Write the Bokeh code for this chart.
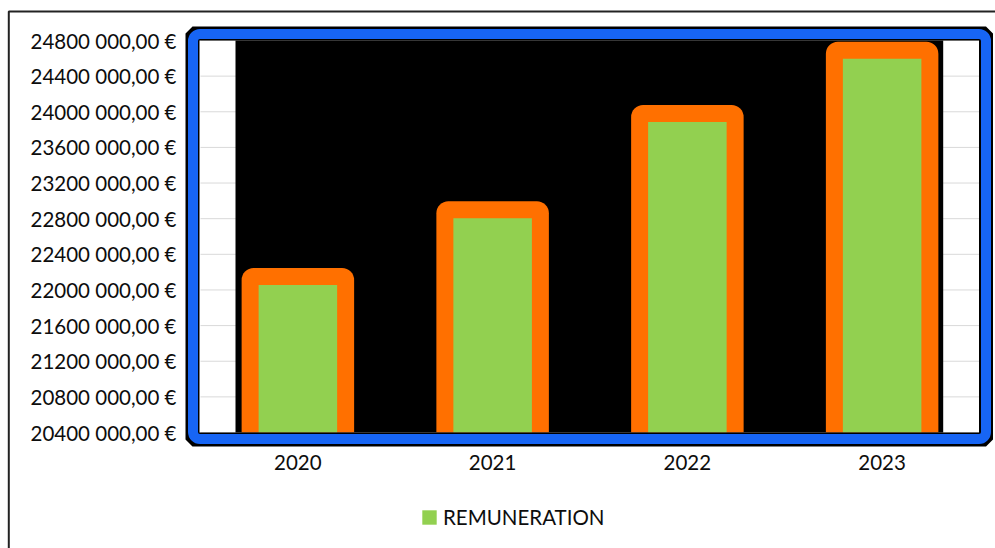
from bokeh.plotting import figure
from bokeh.models import (Range1d, FixedTicker, BoxAnnotation, LinearAxis,
                          Legend, LegendItem, ColumnDataSource)
from bokeh.embed import file_html
from bokeh.resources import INLINE

# ---- data ----
years = ["2020", "2021", "2022", "2023"]
remuneration = [22150000, 22900000, 23980000, 24690000]
series_name = "REMUNERATION"
y_ticks = [20400000, 20800000, 21200000, 21600000, 22000000, 22400000,
           22800000, 23200000, 23600000, 24000000, 24400000, 24800000]
y_tick_labels = ["20400 000,00 €", "20800 000,00 €", "21200 000,00 €",
                 "21600 000,00 €", "22000 000,00 €", "22400 000,00 €",
                 "22800 000,00 €", "23200 000,00 €", "23600 000,00 €",
                 "24000 000,00 €", "24400 000,00 €", "24800 000,00 €"]
y_min, y_max = 20400000, 24800000

# ---- style ----
GREEN = "#92D050"
ORANGE = "#FF7000"
BLUE = "#1765F4"
TEXT = "#0d0d0d"
FONT = "Lato"
FSIZE = "20.5px"

W, H = 995, 548
PL, PR, PT, PB = 200, 979, 40, 432   # inner plot area in page pixels
NCAT = len(years)
PX_X = (PR - PL) / NCAT              # pixels per category
PX_Y = (PB - PT) / (y_max - y_min)   # pixels per euro


def dx(px):
    return (px - PL) / PX_X


def dy(py):
    return y_min + (PB - py) / PX_Y


x_pos = [i + 0.5 for i in range(NCAT)]

p = figure(width=W, height=H,
           x_range=Range1d(dx(0), dx(W)),
           y_range=Range1d(dy(H), dy(0)),
           x_axis_location=None, y_axis_location=None,
           output_backend="svg", toolbar_location=None,
           min_border=0, min_border_left=0, min_border_right=0,
           min_border_top=0, min_border_bottom=0,
           background_fill_color="white", border_fill_color="white")
p.outline_line_color = None
p.grid.visible = False

# ---- outer chart border ----
p.add_layout(BoxAnnotation(left=dx(8.3), right=dx(1200), top=dy(11), bottom=dy(800),
                           fill_color=None, line_color="#222222", line_alpha=1,
                           line_width=2))

# ---- gridlines inside the white plot area ----
grid_r = p.segment(x0=dx(PL), x1=dx(PR), y0=y_ticks, y1=y_ticks,
                   line_color="#d9d9d9", line_width=1)
grid_r.level = "image"

# ---- black band behind bars ----
band = p.quad(left=dx(235), right=dx(942.7), bottom=y_min, top=y_max,
              fill_color="black", line_color=None)
band.level = "underlay"

# ---- bars: orange border (outer) + green fill (inner) ----
half_border = 8.5  # px
src = ColumnDataSource(dict(
    x=x_pos,
    outer_top=[v + half_border / PX_Y for v in remuneration],
    inner_top=[v - half_border / PX_Y for v in remuneration],
))
p.vbar(x="x", top="outer_top", bottom=y_min, width=112.5 / PX_X, source=src,
       fill_color=ORANGE, line_color=None, border_radius=(12, 12, 0, 0))
green_r = p.vbar(x="x", top="inner_top", bottom=y_min, width=78.5 / PX_X, source=src,
                 fill_color=GREEN, line_color=None)

# ---- black ring + blue rounded border around plot area ----
p.add_layout(BoxAnnotation(left=dx(192), right=dx(985.5), top=dy(33), bottom=dy(439),
                           fill_color=None, line_color="black", line_alpha=1,
                           line_width=14))
p.add_layout(BoxAnnotation(left=dx(192.5), right=dx(985.5), top=dy(33.5), bottom=dy(438.5),
                           fill_color=None, line_color=BLUE, line_alpha=1,
                           line_width=10, border_radius=7))

# ---- axes ----
yax = LinearAxis(ticker=FixedTicker(ticks=y_ticks),
                 major_label_overrides=dict(zip(y_ticks, y_tick_labels)),
                 fixed_location=dx(PL),
                 axis_line_color=None, major_tick_line_color=None,
                 minor_tick_line_color=None, major_tick_out=0, major_tick_in=0,
                 major_label_standoff=24,
                 major_label_text_font=FONT, major_label_text_font_size=FSIZE,
                 major_label_text_color=TEXT)
p.add_layout(yax, "left")

xax = LinearAxis(ticker=FixedTicker(ticks=x_pos),
                 major_label_overrides=dict(zip(x_pos, years)),
                 fixed_location=y_min,
                 axis_line_color=None, major_tick_line_color=None,
                 minor_tick_line_color=None, major_tick_out=0, major_tick_in=0,
                 major_label_standoff=22,
                 major_label_text_font=FONT, major_label_text_font_size=FSIZE,
                 major_label_text_color=TEXT)
p.add_layout(xax, "below")

# ---- legend ----
legend = Legend(items=[LegendItem(label=series_name, renderers=[green_r])],
                location=(420, 19), orientation="horizontal",
                padding=0, spacing=0, margin=0,
                border_line_color=None, background_fill_alpha=0,
                glyph_width=18, glyph_height=18, label_standoff=5,
                label_text_font=FONT, label_text_font_size=FSIZE,
                label_text_color=TEXT)
p.add_layout(legend, "center")

open("out.html", "w").write(file_html(p, INLINE))
